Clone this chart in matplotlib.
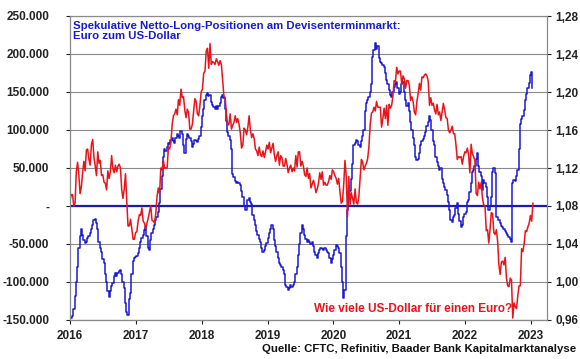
import matplotlib

matplotlib.use("Agg")
import matplotlib.pyplot as plt
import matplotlib.ticker as mticker
import pandas as pd

# CFTC: speculative net long positions EUR futures, thousand contracts, weekly from 2016-01-05
net_long_k = [
    # 2016
    -147, -145, -135, -118, -100, -80, -55, -40, -30, -38, -45, -49, -47, -42, -40, -35, -30,
    -25, -18, -17, -22, -30, -48, -55, -60, -70, -75, -90, -100, -112, -120, -112, -105, -101,
    -92, -88, -92, -88, -85, -84, -90, -100, -108, -128, -140, -143, -122, -115, -90, -72, -68, -67,
    # 2017
    -66, -62, -55, -48, -42, -38, -32, -28, -40, -55, -58, -45, -35, -30, -25, -18, -14, -8,
    4, 22, 40, 65, 75, 72, 78, 83, 82, 87, 90, 85, 83, 90, 95, 92, 90, 99, 95, 80, 70, 88,
    95, 92, 90, 85, 78, 82, 87, 85, 84, 88, 92, 104,
    # 2018
    118, 128, 140, 146, 149, 145, 146, 137, 133, 130, 128, 132, 128, 131, 135, 144, 146, 142,
    128, 112, 98, 92, 87, 75, 42, 38, 33, 30, 32, 30, 28, 20, 12, 0, -5, -5, 8, 10, 5, 3,
    -12, -18, -25, -33, -38, -44, -48, -55, -60, -58, -52, -49,
    # 2019
    -42, -36, -30, -25, -30, -45, -52, -60, -68, -75, -78, -80, -84, -90, -104, -106, -110,
    -108, -104, -106, -104, -100, -90, -80, -65, -50, -35, -25, -30, -38, -44, -47, -45, -47,
    -50, -48, -52, -60, -65, -68, -62, -58, -55, -56, -58, -55, -58, -60, -62, -68, -75, -70,
    # 2020
    -65, -58, -51, -53, -55, -62, -80, -100, -121, -110, -40, -5, 12, 20, 35, 55, 80, 83, 87,
    85, 80, 78, 85, 92, 100, 125, 135, 140, 143, 150, 160, 196, 205, 214, 206, 211, 195, 190,
    188, 185, 183, 175, 166, 160, 152, 146, 143, 150, 157, 160, 163, 155,
    # 2021
    148, 150, 160, 163, 150, 140, 132, 135, 125, 110, 100, 90, 80, 65, 60, 62, 70, 80, 86, 88,
    92, 98, 105, 110, 118, 113, 100, 85, 80, 65, 58, 52, 47, 50, 35, 30, 25, 21, 15, 5, -5,
    -18, -21, -15, -12, -2, 4, -10, -20, -28, -25, -15,
    # 2022
    -10, -8, 5, 8, 18, 30, 45, 48, 52, 62, 70, 52, 45, 40, 21, 34, 30, 25, 12, -5, 0, 12, 45,
    50, 43, -14, -15, -18, -22, -26, -28, -30, -33, -35, -38, -41, -44, -47, 30, 34, 33, 40,
    47, 75, 108, 115, 118, 126, 140, 148, 155, 162,
    # 2023
    172, 176, 155,
]

# EUR/USD, weekly from 2016-01-01
eurusd = [
    # 2016
    1.086, 1.092, 1.092, 1.080, 1.083, 1.116, 1.126, 1.113, 1.093, 1.100, 1.115, 1.127, 1.117,
    1.139, 1.140, 1.129, 1.123, 1.145, 1.150, 1.131, 1.122, 1.112, 1.137, 1.125, 1.128, 1.112,
    1.113, 1.105, 1.104, 1.097, 1.117, 1.109, 1.116, 1.133, 1.119, 1.115, 1.123, 1.116, 1.122,
    1.124, 1.120, 1.097, 1.088, 1.098, 1.114, 1.085, 1.059, 1.059, 1.066, 1.056, 1.045, 1.045,
    1.052,
    # 2017
    1.053, 1.064, 1.071, 1.070, 1.078, 1.064, 1.062, 1.056, 1.062, 1.067, 1.074, 1.080, 1.065,
    1.064, 1.062, 1.072, 1.090, 1.099, 1.093, 1.120, 1.118, 1.128, 1.120, 1.120, 1.120, 1.142,
    1.140, 1.147, 1.166, 1.175, 1.177, 1.182, 1.176, 1.192, 1.186, 1.203, 1.194, 1.195, 1.181,
    1.173, 1.182, 1.178, 1.161, 1.161, 1.166, 1.179, 1.193, 1.190, 1.177, 1.175, 1.186, 1.200,
    # 2018
    1.203, 1.220, 1.222, 1.243, 1.246, 1.225, 1.251, 1.229, 1.232, 1.231, 1.229, 1.235, 1.232,
    1.228, 1.233, 1.229, 1.213, 1.196, 1.194, 1.177, 1.165, 1.166, 1.177, 1.161, 1.165, 1.168,
    1.175, 1.168, 1.172, 1.166, 1.157, 1.141, 1.144, 1.162, 1.160, 1.155, 1.163, 1.175, 1.160,
    1.152, 1.156, 1.151, 1.140, 1.138, 1.133, 1.142, 1.134, 1.132, 1.138, 1.131, 1.137, 1.144,
    # 2019
    1.140, 1.147, 1.136, 1.141, 1.146, 1.134, 1.127, 1.133, 1.137, 1.123, 1.133, 1.131, 1.122,
    1.122, 1.130, 1.124, 1.115, 1.120, 1.123, 1.116, 1.120, 1.117, 1.133, 1.121, 1.137, 1.137,
    1.122, 1.127, 1.122, 1.113, 1.111, 1.120, 1.109, 1.114, 1.099, 1.103, 1.107, 1.102, 1.094,
    1.098, 1.104, 1.115, 1.108, 1.116, 1.102, 1.105, 1.102, 1.102, 1.106, 1.112, 1.108, 1.118,
    # 2020
    1.116, 1.112, 1.109, 1.103, 1.109, 1.095, 1.083, 1.085, 1.103, 1.128, 1.111, 1.069, 1.111,
    1.081, 1.094, 1.088, 1.082, 1.098, 1.084, 1.082, 1.090, 1.110, 1.129, 1.126, 1.118, 1.122,
    1.125, 1.130, 1.143, 1.166, 1.178, 1.179, 1.184, 1.180, 1.190, 1.184, 1.184, 1.184, 1.163,
    1.172, 1.183, 1.172, 1.186, 1.165, 1.187, 1.183, 1.186, 1.196, 1.212, 1.211, 1.226, 1.219,
    # 2021
    1.222, 1.222, 1.208, 1.217, 1.214, 1.204, 1.212, 1.212, 1.207, 1.191, 1.195, 1.190, 1.179,
    1.176, 1.190, 1.198, 1.209, 1.202, 1.216, 1.215, 1.218, 1.219, 1.217, 1.211, 1.186, 1.194,
    1.186, 1.188, 1.181, 1.177, 1.187, 1.176, 1.179, 1.170, 1.179, 1.188, 1.181, 1.173, 1.172,
    1.160, 1.157, 1.160, 1.164, 1.156, 1.156, 1.144, 1.129, 1.132, 1.131, 1.132, 1.124, 1.132,
    1.137,
    # 2022
    1.136, 1.141, 1.134, 1.115, 1.145, 1.135, 1.132, 1.127, 1.093, 1.091, 1.105, 1.098, 1.105,
    1.088, 1.081, 1.080, 1.054, 1.055, 1.041, 1.056, 1.073, 1.072, 1.052, 1.050, 1.055, 1.043,
    1.018, 1.008, 1.021, 1.022, 1.018, 1.026, 1.004, 0.996, 0.995, 1.004, 1.002, 0.962, 0.978,
    0.974, 0.972, 0.986, 0.996, 0.996, 1.035, 1.032, 1.040, 1.054, 1.053, 1.058, 1.062, 1.070,
    # 2023
    1.064, 1.083,
]

net_dates = pd.date_range("2016-01-05", periods=len(net_long_k), freq="7D")
fx_dates = pd.date_range("2016-01-01", periods=len(eurusd), freq="7D")
years = list(range(2016, 2024))

BLUE = "#1a1ad2"
RED = "#e8141a"
plt.rcParams["font.family"] = ["Liberation Sans", "DejaVu Sans"]
plt.rcParams["font.weight"] = "bold"

fig = plt.figure(figsize=(5.8, 3.59), dpi=100)
ax = fig.add_axes([70 / 580, 1 - 320 / 359, 477 / 580, 304 / 359])
ax2 = ax.twinx()

ax.set_ylim(-150000, 250000)
ax.set_yticks(range(-150000, 250001, 50000))
ax.yaxis.set_major_formatter(mticker.FuncFormatter(
    lambda v, _: "-" if v == 0 else f"{v:,.0f}".replace(",", ".")))
ax2.set_ylim(0.96, 1.28)
ax2.set_yticks([0.96 + 0.04 * k for k in range(9)])
ax2.yaxis.set_major_formatter(mticker.FuncFormatter(
    lambda v, _: f"{v:.2f}".replace(".", ",")))

ax.set_xlim(pd.Timestamp("2016-01-01"), pd.Timestamp("2023-04-01"))
ax.set_xticks([pd.Timestamp(f"{y}-01-01") for y in years])
ax.set_xticklabels([str(y) for y in years])

ax.grid(axis="y", color="#8a8a8a", linewidth=0.8)
ax.set_axisbelow(True)
ax.axhline(0, color="#1c1ca8", linewidth=1.6, zorder=3)

ax.plot(net_dates, [v * 1000 for v in net_long_k], color=BLUE, linewidth=1.1,
        drawstyle="steps-post", zorder=4)
ax2.plot(fx_dates, eurusd, color=RED, linewidth=1.1)

for a in (ax, ax2):
    a.tick_params(labelsize=8.5, length=3, width=0.8, colors="#222222")
    for s in a.spines.values():
        s.set_color("#8a8a8a")
        s.set_linewidth(0.8)
ax.spines["left"].set_color("#333333")
ax.spines["bottom"].set_color("#333333")
ax.tick_params(axis="y", length=3, pad=12)
ax.tick_params(axis="x", pad=4)
ax2.tick_params(axis="y", length=3, pad=3)

fig.text(73 / 580, 1 - 21 / 359,
         "Spekulative Netto-Long-Positionen am Devisenterminmarkt:\nEuro zum US-Dollar",
         color=BLUE, fontsize=8.2, fontweight="bold", va="top", ha="left", linespacing=1.05)
fig.text(512 / 580, 1 - 309 / 359, "Wie viele US-Dollar für einen Euro?",
         color=RED, fontsize=8.5, fontweight="bold", va="center", ha="right")
fig.text(576 / 580, 1 - 349 / 359, "Quelle: CFTC, Refinitiv, Baader Bank Kapitalmarktanalyse",
         color="#111111", fontsize=8.2, fontweight="bold", va="center", ha="right")

fig.savefig("out.png", dpi=100)
